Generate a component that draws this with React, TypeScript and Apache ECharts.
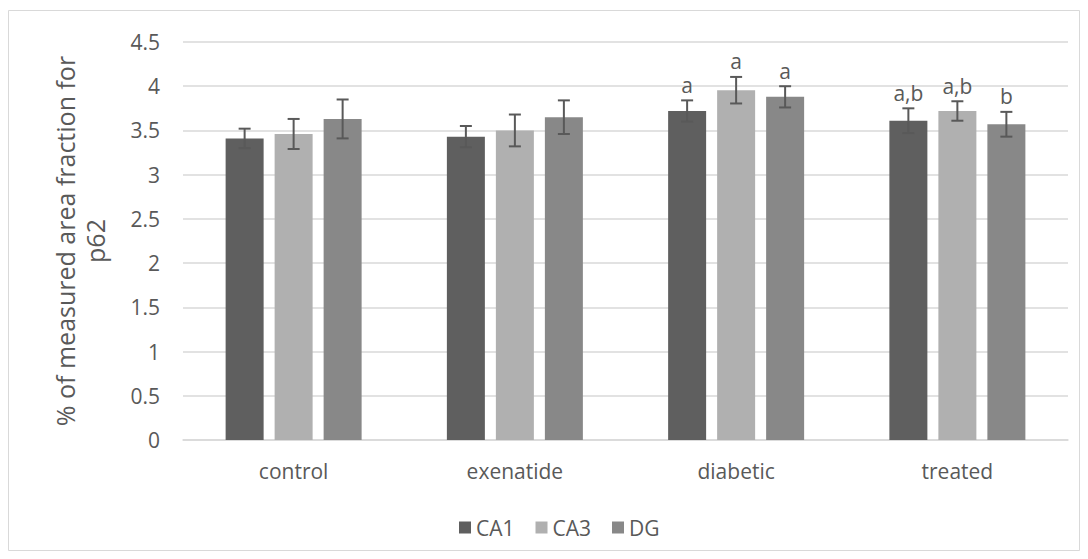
import React, { useEffect, useRef } from "react";
import * as echarts from "echarts";

const categories = ["control", "exenatide", "diabetic", "treated"];
const seriesNames = ["CA1", "CA3", "DG"];
const ca1 = [3.41, 3.43, 3.72, 3.61];
const ca3 = [3.46, 3.5, 3.955, 3.72];
const dg = [3.63, 3.65, 3.88, 3.57];
const ca1Err = [0.11, 0.12, 0.12, 0.14];
const ca3Err = [0.17, 0.18, 0.15, 0.11];
const dgErr = [0.22, 0.19, 0.12, 0.14];
const ca1Sig = ["", "", "a", "a,b"];
const ca3Sig = ["", "", "a", "a,b"];
const dgSig = ["", "", "a", "b"];
const yTicks = [0, 4.5, 0.5]; // min, max, interval

const colors = ["#5f5f5f", "#b0b0b0", "#888888"];
const FONT = "'Open Sans', 'Noto Sans', sans-serif";
const TEXT = "#595959";
const BAR_W = 38;
const GAP_PX = 11;
const FS = 21;

export default function App() {
  const ref = useRef<HTMLDivElement>(null);
  useEffect(() => {
    if (!ref.current) return;
    const chart = echarts.init(ref.current, undefined, { renderer: "svg" });
    const values = [ca1, ca3, dg];
    const errs = [ca1Err, ca3Err, dgErr];
    const sigs = [ca1Sig, ca3Sig, dgSig];
    const errData: any[] = [];
    values.forEach((vals, s) => {
      vals.forEach((v, i) => {
        errData.push([i, v, errs[s][i], s, sigs[s][i]]);
      });
    });
    const option: any = {
      animation: false,
      textStyle: { fontFamily: FONT },
      graphic: [
        {
          type: "rect",
          shape: { x: 8.5, y: 10.5, width: 1071, height: 540 },
          style: { fill: "none", stroke: "#d9d9d9", lineWidth: 1 },
          silent: true,
        },
      ],
      grid: { left: 183, right: 20, top: 42, bottom: 119 },
      legend: {
        data: seriesNames,
        bottom: 16,
        left: 454,
        icon: "rect",
        itemWidth: 12,
        itemHeight: 12,
        itemGap: 21,
        textStyle: { color: TEXT, fontSize: FS, fontFamily: FONT },
      },
      xAxis: {
        type: "category",
        data: categories,
        axisLine: { lineStyle: { color: "#d9d9d9", width: 1.5 } },
        axisTick: { show: false },
        axisLabel: { color: TEXT, fontSize: FS, margin: 20, fontFamily: FONT },
      },
      yAxis: {
        type: "value",
        min: yTicks[0],
        max: yTicks[1],
        interval: yTicks[2],
        name: "% of measured area fraction for\np62",
        nameLocation: "middle",
        nameGap: 73,
        nameTextStyle: { color: TEXT, fontSize: 25, fontFamily: FONT, lineHeight: 30 },
        axisLine: { show: false },
        axisTick: { show: false },
        axisLabel: { color: TEXT, fontSize: FS, margin: 23, fontFamily: FONT },
        splitLine: { lineStyle: { color: "#d9d9d9", width: 1.5 } },
      },
      series: [
        ...seriesNames.map((name, s) => ({
          name,
          type: "bar",
          data: values[s],
          barWidth: BAR_W,
          barGap: (GAP_PX / BAR_W) * 100 + "%",
          itemStyle: { color: colors[s] },
        })),
        {
          type: "custom",
          silent: true,
          data: errData,
          encode: { x: 0, y: 1 },
          z: 10,
          renderItem: (params: any, api: any) => {
            const i = api.value(0);
            const v = api.value(1);
            const e = api.value(2);
            const s = api.value(3);
            const label = errData[params.dataIndex][4];
            const off = (s - 1) * (BAR_W + GAP_PX);
            const top = api.coord([i, v + e]);
            const bot = api.coord([i, v - e]);
            const x = top[0] + off;
            const cap = 6;
            const st = { stroke: "#595959", lineWidth: 2 };
            const children: any[] = [
              { type: "line", shape: { x1: x, y1: top[1], x2: x, y2: bot[1] }, style: st },
              { type: "line", shape: { x1: x - cap, y1: top[1], x2: x + cap, y2: top[1] }, style: st },
              { type: "line", shape: { x1: x - cap, y1: bot[1], x2: x + cap, y2: bot[1] }, style: st },
            ];
            if (label) {
              children.push({
                type: "text",
                style: {
                  text: label,
                  x: x,
                  y: top[1] - 5,
                  align: "center",
                  verticalAlign: "bottom",
                  fill: TEXT,
                  fontSize: FS,
                  fontFamily: FONT,
                },
              });
            }
            return { type: "group", children };
          },
        },
      ],
    };
    chart.setOption(option);
    return () => chart.dispose();
  }, []);
  return (
    <div
      ref={ref}
      style={{ position: "fixed", left: 0, top: 0, width: 1088, height: 559, background: "#fff" }}
    />
  );
}
